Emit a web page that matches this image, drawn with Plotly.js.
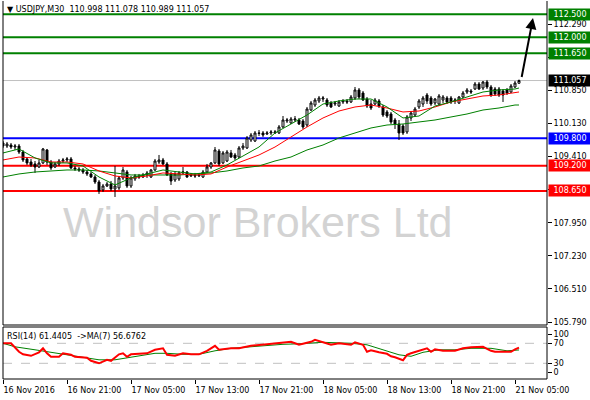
<!DOCTYPE html>
<html><head><meta charset="utf-8">
<script src="https://cdn.plot.ly/plotly-3.0.1.min.js"></script>
<style>html,body{margin:0;padding:0;background:#fff}#chart{width:590px;height:400px}</style>
</head><body><div id="chart"></div>
<script>
// ---- candle data (USDJPY M30), bar index 0..129 ----
const openP = [109.695,109.629,109.651,109.607,109.629,109.498,109.346,109.280,109.237,109.171,
109.259,109.542,109.280,109.171,109.237,109.302,109.324,109.346,109.150,109.128,
109.106,109.062,109.019,108.953,108.844,108.670,108.757,108.801,108.692,108.714,
108.932,109.062,108.757,108.910,108.975,108.953,108.997,108.953,109.106,109.280,
109.324,109.237,109.019,108.888,108.910,109.041,109.062,108.975,108.997,108.975,
108.953,109.062,109.171,109.259,109.520,109.259,109.302,109.477,109.433,109.389,
109.586,109.586,109.760,109.738,109.913,109.913,109.891,109.913,109.913,109.913,
110.044,110.174,110.131,110.196,110.196,110.174,110.087,110.414,110.523,110.611,
110.654,110.632,110.567,110.545,110.502,110.589,110.611,110.589,110.676,110.851,
110.785,110.654,110.545,110.545,110.611,110.480,110.371,110.327,110.196,110.109,
110.065,109.935,110.240,110.305,110.480,110.545,110.741,110.676,110.567,110.545,
110.632,110.676,110.676,110.611,110.567,110.698,110.807,110.829,110.872,110.981,
110.894,111.025,110.916,110.872,110.872,110.829,110.851,110.807,110.916,110.998];
const highP = [109.738,109.716,109.695,109.673,109.673,109.542,109.389,109.346,109.302,109.324,
109.586,109.564,109.324,109.280,109.346,109.368,109.389,109.389,109.193,109.171,
109.150,109.106,109.062,108.997,108.888,108.801,108.844,108.866,109.193,108.975,
109.171,109.106,108.975,109.019,109.019,109.041,109.084,109.128,109.346,109.433,
109.368,109.280,109.062,109.062,109.084,109.171,109.084,109.041,109.041,109.041,
109.106,109.237,109.280,109.607,109.564,109.520,109.542,109.542,109.477,109.629,
109.695,109.847,109.913,109.956,109.978,109.956,109.956,109.978,109.978,110.087,
110.283,110.240,110.262,110.283,110.240,110.218,110.480,110.611,110.676,110.720,
110.720,110.676,110.611,110.611,110.632,110.654,110.654,110.741,110.916,110.894,
110.829,110.698,110.632,110.676,110.654,110.523,110.414,110.371,110.240,110.196,
110.109,110.305,110.392,110.480,110.654,110.720,110.785,110.720,110.676,110.763,
110.741,110.720,110.720,110.676,110.720,110.829,110.894,110.872,111.025,111.025,
111.047,111.069,110.960,110.916,110.916,110.872,110.894,110.981,111.047,111.078];
const lowP = [109.586,109.586,109.564,109.542,109.455,109.280,109.215,109.171,109.041,109.150,
109.237,109.215,109.106,109.150,109.193,109.259,109.280,109.128,109.084,109.062,
109.019,108.975,108.932,108.801,108.583,108.626,108.735,108.648,108.517,108.670,
108.888,108.714,108.714,108.866,108.910,108.932,108.932,108.932,109.084,109.237,
109.215,108.975,108.779,108.844,108.866,109.019,108.932,108.953,108.932,108.953,
108.932,109.041,109.128,109.237,109.193,109.237,109.280,109.368,109.324,109.368,
109.542,109.564,109.716,109.716,109.847,109.826,109.869,109.869,109.891,109.891,
110.022,110.131,110.109,110.153,110.087,110.000,110.044,110.392,110.480,110.567,
110.589,110.480,110.458,110.502,110.480,110.545,110.545,110.567,110.632,110.654,
110.611,110.458,110.414,110.523,110.458,110.262,110.240,110.109,110.000,109.760,
109.869,109.891,110.174,110.262,110.436,110.480,110.545,110.502,110.523,110.502,
110.567,110.545,110.545,110.545,110.545,110.676,110.763,110.763,110.851,110.851,
110.851,110.872,110.698,110.720,110.698,110.589,110.741,110.785,110.894,110.989];
const closeP = [109.629,109.673,109.607,109.629,109.498,109.324,109.259,109.215,109.171,109.259,
109.564,109.280,109.150,109.237,109.302,109.324,109.346,109.150,109.128,109.106,
109.062,109.019,108.953,108.844,108.648,108.757,108.801,108.692,108.757,108.932,
109.106,108.757,108.932,108.975,108.953,108.997,109.041,109.106,109.302,109.324,
109.237,108.997,108.866,109.019,109.041,109.062,108.953,108.997,108.975,108.997,
109.062,109.171,109.259,109.542,109.237,109.477,109.498,109.389,109.368,109.586,
109.629,109.804,109.869,109.913,109.905,109.869,109.913,109.935,109.935,110.044,
110.196,110.196,110.218,110.218,110.109,110.044,110.436,110.567,110.632,110.676,
110.676,110.523,110.480,110.567,110.589,110.611,110.589,110.698,110.851,110.698,
110.632,110.502,110.458,110.632,110.502,110.305,110.283,110.153,110.109,109.913,
109.913,110.262,110.349,110.436,110.611,110.676,110.611,110.545,110.654,110.720,
110.698,110.589,110.589,110.632,110.698,110.785,110.851,110.807,110.981,110.872,
111.025,110.916,110.741,110.763,110.741,110.741,110.785,110.938,111.003,111.057];

// ---- moving averages read at sample bars ----
const maIdx = [0,4,8,12,16,20,24,28,32,36,40,44,48,52,56,60,64,68,72,76,80,84,88,92,96,100,104,108,112,116,120,124,128,129];
const maFast = [109.477,109.564,109.368,109.259,109.259,109.193,108.953,108.779,108.932,109.019,109.106,109.062,109.019,109.062,109.215,109.411,109.607,109.913,110.109,110.305,110.545,110.611,110.654,110.654,110.480,110.240,110.283,110.502,110.589,110.698,110.807,110.851,110.872,110.894];
const maMid = [109.324,109.389,109.368,109.280,109.280,109.237,109.084,108.975,108.932,108.975,109.041,109.019,108.997,109.019,109.171,109.302,109.433,109.607,109.826,110.044,110.240,110.392,110.480,110.523,110.458,110.371,110.392,110.480,110.589,110.654,110.720,110.741,110.785,110.807];
const maSlow = [108.953,109.019,109.062,109.084,109.106,109.106,109.084,109.041,108.997,108.997,108.997,108.997,109.019,109.041,109.084,109.150,109.193,109.302,109.389,109.542,109.651,109.804,109.913,110.022,110.087,110.109,110.153,110.196,110.262,110.327,110.414,110.458,110.523,110.523];

// ---- RSI(14) and its MA(7) ----
const rsiIdx = [0,2,4,5,7,9,10,11,12,14,15,17,18,21,22,24,26,27,29,30,31,32,36,38,40,41,43,45,47,49,51,53,54,57,59,62,66,69,72,74,77,78,80,81,82,84,86,87,88,90,91,92,94,96,97,98,100,101,102,104,106,107,108,110,113,115,117,120,122,123,127,128,129];
const rsiVal = [70,70,53,48,45,52,60,50,43,43,50,47,43,41,35,30,37,35,48,50,43,48,50,57,60,47,45,50,48,48,55,65,57,60,60,65,68,70,73,67,73,77,72,70,67,70,67,67,72,67,53,56,52,49,44,42,36,47,50,55,60,53,58,55,55,60,62,63,55,53,53,58,61.44];
const rsiMaIdx = [0,3,8,12,16,20,24,28,31,34,38,41,45,49,53,57,62,66,70,74,80,87,91,95,99,102,105,109,113,117,122,126,129];
const rsiMaVal = [70,63,57,52,48,43,37,37,41,45,50,50,48,48,55,60,63,66,68,69,72,70,67,57,47,44,52,57,57,60,60,55,56.68];

// ---- axes labels ----
const timeTickIdx = [0,16,32,48,64,80,96,112,128];
const timeTickText = ["16 Nov 2016","16 Nov 21:00","17 Nov 05:00","17 Nov 13:00","17 Nov 21:00","18 Nov 05:00","18 Nov 13:00","18 Nov 21:00","21 Nov 05:00"];
const priceTicks = [112.290,111.570,110.850,110.130,109.410,108.690,107.950,107.230,106.510,105.790];
// labels of 111.570 and 108.690 sit under the level boxes in the reference
const priceTickText = ["112.290","","110.850","110.130","109.410","","107.950","107.230","106.510","105.790"];
const rsiTickPos = [88.6,70,30,12.6];
const rsiTickText = ["100","70","30","0"];

// ---- horizontal levels ----
const levelPrices = [112.500,112.000,111.650,109.800,109.200,108.650];
const levelColors = ["#008000","#008000","#008000","#0000ff","#ff0000","#ff0000"];
const lastPrice = 111.057;
const titleText = "▼ USDJPY,M30\u00a0\u00a0110.998 111.078 110.989 111.057";
const rsiText = "RSI(14) 61.4405\u00a0\u00a0-&gt;MA(7) 56.6762";

const barIdx = closeP.map((_, i) => i);
const F = "DejaVu Sans";

const traces = [
  {type:'candlestick', x:barIdx, open:openP, high:highP, low:lowP, close:closeP,
   xaxis:'x', yaxis:'y', whiskerwidth:0,
   increasing:{line:{color:'#000', width:1}, fillcolor:'#ffffff'},
   decreasing:{line:{color:'#000', width:1}, fillcolor:'#000000'},
   hoverinfo:'skip', showlegend:false},
  {type:'scatter', mode:'lines', x:maIdx, y:maSlow, line:{color:'#008000', width:1}, xaxis:'x', yaxis:'y', hoverinfo:'skip', showlegend:false},
  {type:'scatter', mode:'lines', x:maIdx, y:maMid, line:{color:'#ff0000', width:1}, xaxis:'x', yaxis:'y', hoverinfo:'skip', showlegend:false},
  {type:'scatter', mode:'lines', x:maIdx, y:maFast, line:{color:'#008000', width:1}, xaxis:'x', yaxis:'y', hoverinfo:'skip', showlegend:false},
  {type:'scatter', mode:'lines', x:rsiMaIdx, y:rsiMaVal, line:{color:'#008000', width:1}, xaxis:'x', yaxis:'y2', hoverinfo:'skip', showlegend:false},
  {type:'scatter', mode:'lines', x:rsiIdx, y:rsiVal, line:{color:'#ff0000', width:2}, xaxis:'x', yaxis:'y2', hoverinfo:'skip', showlegend:false}
];

const mainBottom = 54/378;
const rsiTop = 52/378;

const shapes = [];
levelPrices.forEach((p, i) => shapes.push({type:'line', xref:'paper', yref:'y', x0:0, x1:1, y0:p, y1:p, line:{color:levelColors[i], width:2}, layer:'below'}));
shapes.push({type:'line', xref:'paper', yref:'y', x0:0, x1:1, y0:lastPrice, y1:lastPrice, line:{color:'#c0c0c0', width:1}, layer:'below'});
[70,30].forEach(v => shapes.push({type:'line', xref:'paper', yref:'y2', x0:0, x1:1, y0:v, y1:v, line:{color:'#c0c0c0', width:1, dash:'dash'}, layer:'below'}));
// frames
shapes.push({type:'line', xref:'paper', yref:'paper', x0:0, x1:0, y0:mainBottom, y1:1, line:{color:'#000', width:1}});
shapes.push({type:'line', xref:'paper', yref:'paper', x0:1, x1:1, y0:mainBottom, y1:1, line:{color:'#000', width:1}});
shapes.push({type:'line', xref:'paper', yref:'paper', x0:0, x1:1, y0:mainBottom, y1:mainBottom, line:{color:'#000', width:1}});
shapes.push({type:'rect', xref:'paper', yref:'paper', x0:0, x1:1, y0:0, y1:rsiTop, line:{color:'#000', width:1}});

const annotations = [
  {xref:'paper', yref:'paper', x:0, y:(379-9)/378, xanchor:'left', yanchor:'middle', xshift:2, text:titleText, showarrow:false, font:{family:F, size:8, color:'#000'}},
  {xref:'paper', yref:'paper', x:0, y:(379-336)/378, xanchor:'left', yanchor:'middle', xshift:2, text:rsiText, showarrow:false, font:{family:F, size:8, color:'#000'}},
  {xref:'paper', yref:'paper', x:(257.5-3)/544, y:(379-222)/378, xanchor:'center', yanchor:'middle', text:'Windsor Brokers Ltd', showarrow:false, font:{family:'Liberation Sans, Arial', size:43, color:'#d3d3d3'}},
  {xref:'x', yref:'y', x:132.5, y:112.42, ax:129.6, ay:111.10, axref:'x', ayref:'y', text:'', showarrow:true, arrowhead:2, arrowsize:1.1, arrowwidth:2, arrowcolor:'#000', standoff:0, startstandoff:0}
];
levelPrices.forEach((p, i) => annotations.push({xref:'paper', yref:'y', x:1, y:p, xanchor:'left', yanchor:'middle', xshift:1, text:p.toFixed(3), showarrow:false, bgcolor:levelColors[i], width:42, height:11, borderpad:0, font:{family:F, size:8, color:'#fff'}}));
annotations.push({xref:'paper', yref:'y', x:1, y:lastPrice, xanchor:'left', yanchor:'middle', xshift:1, text:lastPrice.toFixed(3), showarrow:false, bgcolor:'#000', width:42, height:11, borderpad:0, font:{family:F, size:8, color:'#fff'}});

const layout = {
  width:590, height:400,
  margin:{l:3, r:43, t:1, b:21, pad:0},
  paper_bgcolor:'#fff', plot_bgcolor:'#fff',
  showlegend:false,
  font:{family:F, size:8, color:'#000'},
  xaxis:{domain:[0,1], range:[0,136], anchor:'y2', tickmode:'array', tickvals:timeTickIdx, ticktext:timeTickText,
         ticks:'outside', ticklen:4, tickcolor:'#000', ticklabelposition:'outside right', ticklabelstandoff:3,
         tickfont:{family:F, size:8, color:'#000'}, showgrid:false, zeroline:false, showline:false,
         rangeslider:{visible:false}, fixedrange:true},
  yaxis:{domain:[mainBottom,1], range:[105.7246,112.7916], side:'right', anchor:'x', tickmode:'array',
         tickvals:priceTicks, ticktext:priceTickText, ticks:'outside', ticklen:4, tickcolor:'#000',
         tickfont:{family:F, size:8, color:'#000'}, showgrid:false, zeroline:false, showline:false, fixedrange:true},
  yaxis2:{domain:[0,rsiTop], range:[-1.4,102.6], side:'right', anchor:'x', tickmode:'array',
         tickvals:rsiTickPos, ticktext:rsiTickText, ticks:'outside', ticklen:4, tickcolor:'#000',
         tickfont:{family:F, size:8, color:'#000'}, showgrid:false, zeroline:false, showline:false, fixedrange:true},
  shapes:shapes,
  annotations:annotations
};

Plotly.newPlot('chart', traces, layout, {staticPlot:true, displayModeBar:false});
</script></body></html>
